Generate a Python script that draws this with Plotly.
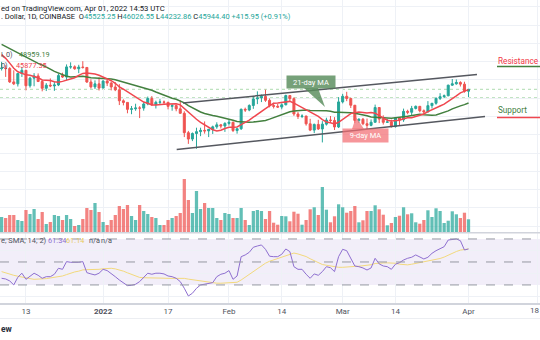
import pandas as pd
import plotly.graph_objects as go

# ---------------- data ----------------
dates = pd.date_range("2021-12-07", "2022-04-01", freq="D")

open_ = [50470, 50590, 50490, 47560, 47140, 49390, 50090, 46720, 48380, 48870,
         47650, 46170, 46850, 46690, 46890, 48950, 48620, 50840, 50860, 50430,
         50800, 50720, 47540, 46470, 47130, 46210, 47740, 47300, 46450, 45830,
         43430, 43080, 41560, 41680, 41860, 41830, 42740, 43930, 42590, 43100,
         43180, 43100, 42220, 42380, 41680, 40700, 36460, 35070, 36280, 36690,
         36970, 36850, 37200, 37740, 38180, 37920, 38490, 38740, 36930, 37330,
         41570, 41410, 42410, 43840, 44060, 44390, 43540, 42390, 42230, 42060,
         42560, 44580, 43900, 40550, 40000, 40100, 38400, 37020, 38270, 37270,
         38330, 39230, 39140, 37710, 43190, 44420, 43920, 42460, 39140, 39400,
         38420, 38060, 38740, 41960, 39440, 38730, 38810, 37780, 39670, 39280,
         41120, 40920, 41760, 42220, 41260, 41000, 42370, 42890, 43960, 44330,
         44520, 46850, 47140, 47440, 47070, 45525.25]
high = [51940, 51200, 50800, 50100, 49470, 50800, 50200, 48680, 49480, 49420,
        48000, 47300, 48320, 47520, 49330, 49570, 51380, 51840, 51180, 51300,
        52090, 50720, 48130, 47900, 48550, 47950, 47990, 47570, 47510, 47070,
        43750, 43140, 42300, 42790, 42250, 43100, 44350, 44460, 43460, 43800,
        43490, 43200, 42700, 42600, 43510, 41140, 36850, 36510, 37550, 37550,
        38920, 37230, 38000, 38730, 38370, 38750, 39270, 38850, 37400, 41740,
        41940, 42660, 44500, 45500, 44800, 45860, 43950, 43000, 42750, 42880,
        44770, 44580, 44190, 40970, 40480, 40140, 39490, 38450, 39270, 38980,
        39730, 40100, 39860, 44230, 44950, 45400, 44100, 42520, 39620, 39680,
        39550, 39360, 42600, 42050, 40250, 39490, 39310, 39920, 39870, 41720,
        41480, 42320, 42400, 42300, 41540, 43360, 42900, 44200, 45100, 44800,
        46950, 48190, 48100, 47700, 47600, 46026.55]
low = [50050, 48650, 47330, 46870, 46550, 48640, 45720, 46310, 46610, 47520,
       45500, 45560, 46410, 45600, 46650, 48440, 47960, 50430, 50220, 49470,
       50460, 47340, 46100, 46000, 45680, 46210, 46650, 45700, 45540, 42500,
       42430, 40700, 40500, 41250, 39650, 41270, 42460, 42320, 41750, 42600,
       42600, 41560, 41260, 41140, 40580, 35500, 34010, 34620, 32950, 35700,
       36250, 35500, 36180, 37320, 37380, 36630, 38020, 36600, 36250, 37050,
       40990, 41150, 41670, 42700, 43150, 43200, 42000, 41760, 41870, 41570,
       42430, 43330, 40140, 39460, 39650, 38000, 36800, 36360, 37050, 34330,
       38020, 38600, 37050, 37480, 42860, 43350, 41850, 38600, 38600, 38090,
       37160, 37870, 38670, 38550, 38230, 38660, 37580, 37560, 38120, 38830,
       40500, 40140, 41540, 40910, 40500, 40880, 41750, 42580, 43600, 44060,
       44440, 46680, 46950, 46550, 45200, 44232.86]
close = [50590, 50490, 47560, 47140, 49390, 50090, 46720, 48380, 48870, 47650,
         46170, 46850, 46690, 46890, 48950, 48620, 50840, 50860, 50430, 50800,
         50720, 47540, 46470, 47130, 46210, 47740, 47300, 46450, 45830, 43430,
         43080, 41560, 41680, 41860, 41830, 42740, 43930, 42590, 43100, 43180,
         43100, 42220, 42380, 41680, 40700, 36460, 35070, 36280, 36690, 36970,
         36850, 37200, 37740, 38180, 37920, 38490, 38740, 36930, 37330, 41570,
         41410, 42410, 43840, 44060, 44390, 43540, 42390, 42230, 42060, 42560,
         44580, 43900, 40550, 40000, 40100, 38400, 37020, 38270, 37270, 38330,
         39230, 39140, 37710, 43190, 44420, 43920, 42460, 39140, 39400, 38420,
         38060, 38740, 41960, 39440, 38730, 38810, 37780, 39670, 39280, 41120,
         40920, 41760, 42220, 41260, 41000, 42370, 42890, 43960, 44330, 44520,
         46850, 47140, 47440, 47070, 45530, 45944.40]
# closes just before the visible window (needed to start the moving averages)
prior_closes = [60130, 60350, 56900, 58100, 59740, 58700, 56300, 57570, 57170,
                58960, 53730, 54750, 57280, 57800, 56950, 57200, 56480, 53600,
                49150, 49400, 50560]

volume = [10500, 9800, 11900, 11900, 8400, 7700, 15400, 12600, 16100, 9100,
          14000, 5600, 7000, 11900, 11200, 8400, 11900, 9100, 4200, 4900,
          9100, 16800, 15400, 20300, 14000, 7000, 4900, 8400, 11900, 18200,
          16100, 18900, 11200, 8400, 18900, 14700, 12600, 10500, 9800, 4900,
          4900, 8400, 9800, 11200, 13300, 37100, 22400, 13300, 28700, 16100,
          20300, 16800, 16800, 9800, 8400, 13300, 12600, 9800, 9800, 16800,
          8400, 4900, 14700, 15400, 14700, 9100, 14700, 6500, 5100, 11200,
          11000, 7500, 14200, 12800, 5100, 8400, 15900, 17300, 11900, 31500,
          15600, 6800, 11000, 19400, 17300, 13500, 14700, 18200, 6800, 8200,
          14700, 14700, 18700, 15900, 12100, 4700, 6300, 10500, 11400, 17300,
          12400, 13100, 6800, 5800, 8400, 15200, 10500, 16600, 14700, 6300,
          7900, 14500, 12400, 9800, 13500, 8900]

rsi = [35.8, 35.2, 33.5, 30.0, 36.7, 40.2, 34.9, 37.8, 40.2, 38.4,
       35.8, 37.2, 37.2, 39.3, 44.5, 43.6, 50.3, 49.7, 49.4, 49.7,
       50.3, 40.7, 39.6, 38.7, 40.2, 43.6, 42.5, 40.2, 37.2, 34.3,
       32.0, 29.4, 29.7, 30.6, 32.9, 36.7, 40.2, 39.3, 40.2, 40.2,
       39.6, 37.8, 37.2, 35.8, 32.9, 27.1, 20.4, 22.8, 27.1, 30.0,
       30.6, 30.9, 32.0, 37.2, 39.3, 40.2, 42.5, 34.9, 37.8, 54.6,
       56.1, 58.4, 62.8, 63.9, 64.8, 61.0, 55.0, 54.6, 54.6, 56.7,
       61.3, 59.0, 45.9, 43.6, 43.6, 39.3, 35.8, 39.6, 38.4, 41.6,
       45.9, 45.0, 41.6, 54.6, 61.0, 59.8, 53.2, 46.5, 45.9, 44.8,
       43.0, 44.8, 53.2, 48.3, 46.5, 45.9, 43.6, 48.0, 49.4, 51.7,
       53.2, 54.1, 56.1, 54.6, 52.6, 54.1, 57.5, 59.8, 61.6, 63.3,
       69.1, 69.7, 70.0, 68.5, 60.4, 61.34]
# RSI-based MA values visible at the left edge (before 14 RSI points exist)
rsi_ma_start = [41.6, 40.4, 39.3, 38.4, 37.6, 36.7, 36.1, 35.5, 34.9, 34.9,
                35.2, 35.5, 36.1]

# hand-drawn channel (date, price) end points and horizontal price lines
upper_trend_x = ["2022-01-20 16:00", "2022-04-03 02:00"]
upper_trend_y = [42950, 49180]
lower_trend_x = ["2022-01-19 03:00", "2022-04-05 01:30"]
lower_trend_y = [32760, 40000]
price_lines = [45944.40, 44100]

tick_dates = ["2021-12-13", "2022-01-01", "2022-01-17", "2022-02-01", "2022-02-14",
              "2022-03-01", "2022-03-14", "2022-04-01", "2022-04-18"]
tick_text = ["13", "<b>2022</b>", "17", "Feb", "14", "Mar", "14", "Apr", ""]
edge_tick_text = "18"

# ---------------- derived series ----------------
all_close = pd.Series(prior_closes + close)
n_prior = len(prior_closes)
ma9 = all_close.rolling(9).mean().iloc[n_prior:].tolist()
ma21 = all_close.rolling(21).mean().iloc[n_prior:].tolist()
rsi_s = pd.Series(rsi)
rsi_ma = rsi_s.rolling(14).mean().tolist()
rsi_ma[:len(rsi_ma_start)] = rsi_ma_start

UP, DN = "#26a69a", "#ef5350"
vol_colors = ["rgba(38,166,154,0.72)" if c >= o else "rgba(239,83,80,0.72)"
              for o, c in zip(open_, close)]

W, H = 540, 340
def fx(p):
    return p / W
def fy(p):
    return 1 - p / H

FONT = "Roboto, Liberation Sans, Arial"
GRID = "#eef1f6"
GREEN_MA = "#43803f"
RED_MA = "#f0474f"
PURPLE = "#8e6fd0"
YELLOW = "#f2d97c"

fig = go.Figure()

fig.add_trace(go.Bar(x=dates, y=volume, marker=dict(color=vol_colors, line=dict(width=0)),
                     width=0.8 * 86400000, xaxis="x", yaxis="y2"))
fig.add_trace(go.Candlestick(x=dates, open=open_, high=high, low=low, close=close,
                             increasing=dict(line=dict(color=UP, width=1), fillcolor=UP),
                             decreasing=dict(line=dict(color=DN, width=1), fillcolor=DN),
                             whiskerwidth=0, xaxis="x", yaxis="y"))
fig.add_trace(go.Scatter(x=dates, y=ma21, mode="lines", line=dict(color=GREEN_MA, width=1.5),
                         xaxis="x", yaxis="y"))
fig.add_trace(go.Scatter(x=dates, y=ma9, mode="lines", line=dict(color=RED_MA, width=1.5),
                         xaxis="x", yaxis="y"))
fig.add_trace(go.Scatter(x=upper_trend_x, y=upper_trend_y, mode="lines",
                         line=dict(color="#55585f", width=1.5), xaxis="x", yaxis="y"))
fig.add_trace(go.Scatter(x=lower_trend_x, y=lower_trend_y, mode="lines",
                         line=dict(color="#55585f", width=1.5), xaxis="x", yaxis="y"))
fig.add_trace(go.Scatter(x=dates, y=rsi_ma, mode="lines", line=dict(color=YELLOW, width=1),
                         xaxis="x2", yaxis="y3"))
fig.add_trace(go.Scatter(x=dates, y=rsi, mode="lines", line=dict(color=PURPLE, width=1),
                         xaxis="x2", yaxis="y3"))

shapes = []
# RSI band and levels
shapes.append(dict(type="rect", xref="paper", yref="y3", x0=0, x1=1, y0=30, y1=70,
                   fillcolor="rgba(126,87,194,0.10)", line=dict(width=0), layer="below"))
for lvl in (70, 50, 30):
    shapes.append(dict(type="line", xref="paper", yref="y3", x0=0, x1=1, y0=lvl, y1=lvl,
                       line=dict(color="#9598a1", width=1, dash="dash")))
# price lines
for p in price_lines:
    shapes.append(dict(type="line", xref="paper", yref="y", x0=0, x1=1, y0=p, y1=p,
                       line=dict(color="rgba(76,175,80,0.45)", width=1, dash="dot"), layer="below"))
# pane separators
shapes.append(dict(type="line", xref="paper", yref="paper", x0=0, x1=1, y0=fy(232.8), y1=fy(232.8),
                   line=dict(color="#d1d4dc", width=1.5)))
shapes.append(dict(type="line", xref="paper", yref="paper", x0=0, x1=1, y0=fy(318.5), y1=fy(318.5),
                   line=dict(color="#eceef2", width=1)))
# Resistance / Support underlines
shapes.append(dict(type="line", xref="paper", yref="paper", x0=fx(497), x1=1, y0=fy(66.5), y1=fy(66.5),
                   line=dict(color=GREEN_MA, width=1.5)))
shapes.append(dict(type="line", xref="paper", yref="paper", x0=fx(497), x1=1, y0=fy(117.5), y1=fy(117.5),
                   line=dict(color=RED_MA, width=1.5)))
# callout pointers
shapes.append(dict(type="path", xref="paper", yref="paper",
                   path=f"M {fx(304)},{fy(88)} L {fx(318)},{fy(88)} L {fx(325)},{fy(107)} Z",
                   fillcolor="rgba(88,140,92,0.82)", line=dict(width=0)))
shapes.append(dict(type="path", xref="paper", yref="paper",
                   path=f"M {fx(352)},{fy(129)} L {fx(364)},{fy(129)} L {fx(356)},{fy(117)} Z",
                   fillcolor="rgba(242,110,115,0.72)", line=dict(width=0)))

ann = []
def text(x, y, s, size=7, color="#131722", anchor="left", **kw):
    ann.append(dict(xref="paper", yref="paper", x=fx(x), y=fy(y), text=s, showarrow=False,
                    xanchor=anchor, yanchor="middle", borderpad=0,
                    font=dict(family=FONT, size=size, color=color), **kw))

t = "#26a69a"
text(0, 8.5, "ed on TradingView.com, Apr 01, 2022 14:53 UTC", size=7.7)
text(0, 16.2, ". Dollar, 1D, COINBASE  "
     f"O<span style='color:{t}'>45525.25</span> H<span style='color:{t}'>46026.55</span> "
     f"L<span style='color:{t}'>44232.86</span> C<span style='color:{t}'>45944.40</span> "
     f"<span style='color:{t}'>+415.95 (+0.91%)</span>", size=7.5)
# indicator legends (left part is cropped in the reference)
text(0, 55, "l, 0)", size=7.3, color="#50535e")
text(17.5, 55, "48959.19", size=7.3, color=GREEN_MA)
text(0, 65.5, "0)", size=7.3, color="#50535e")
text(14.5, 65.5, "45877.35", size=7.3, color=RED_MA)
text(0, 240.5, "e, SMA, 14, 2)", size=7.5, color="#50535e")
text(46.5, 240.5, "61.34", size=7.3, color=PURPLE)
text(64.5, 240.5, "61.14", size=7.3, color="#e8c95c")
text(87.5, 240.5, "n/a", size=7.3, color="#50535e")
text(100, 240.5, "n/a", size=7.3, color="#50535e")
# drawings
text(497, 61, "Resistance", size=8.2, color="#f23645")
text(497, 110.5, "Support", size=8.2, color=GREEN_MA)
text(0, 329, "<b>ew</b>", size=8.5, color="#2a2e39")
text(540, 310.5, edge_tick_text, size=8, color="#50535e", anchor="right")

ann.append(dict(xref="paper", yref="paper", x=fx(311), y=fy(82), text="21-day MA", showarrow=False,
                xanchor="center", yanchor="middle",
                width=48, height=12, bgcolor="rgba(88,140,92,0.82)", borderpad=0,
                font=dict(family=FONT, size=7.5, color="white")))
ann.append(dict(xref="paper", yref="paper", x=fx(365), y=fy(135.5), text="9-day MA", showarrow=False,
                xanchor="center", yanchor="middle",
                width=45, height=13, bgcolor="rgba(242,110,115,0.72)", borderpad=0,
                font=dict(family=FONT, size=7.5, color="white")))

x_range = ["2021-12-06 14:33", "2022-04-18 14:33"]

fig.update_layout(
    width=W, height=H, margin=dict(l=0, r=0, t=0, b=0),
    paper_bgcolor="white", plot_bgcolor="white", showlegend=False, hovermode=False,
    shapes=shapes, annotations=ann,
    xaxis=dict(domain=[0, 1], anchor="y", range=x_range, type="date",
               rangeslider=dict(visible=False), showticklabels=False,
               tickvals=tick_dates, showgrid=True, gridcolor=GRID, gridwidth=1, zeroline=False),
    xaxis2=dict(domain=[0, 1], anchor="y3", matches="x", range=x_range, type="date",
                tickvals=tick_dates, ticktext=tick_text, showgrid=True, gridcolor=GRID,
                showline=True, linecolor="#d1d4dc", linewidth=1.5, ticks="",
                tickfont=dict(family=FONT, size=8, color="#50535e"), zeroline=False),
    yaxis=dict(domain=[fy(232), 1], range=[14750, 65465], dtick=4000, tick0=0,
               showticklabels=False, showgrid=True, gridcolor=GRID, zeroline=False),
    yaxis2=dict(domain=[fy(232), 1], overlaying="y", range=[0, 232 * 700], visible=False),
    yaxis3=dict(domain=[fy(303), fy(233)], anchor="x2", range=[14.3, 75.2], dtick=20, tick0=0,
                showticklabels=False, showgrid=True, gridcolor=GRID, zeroline=False),
)

fig.write_html("out.html", config={"displayModeBar": False})
